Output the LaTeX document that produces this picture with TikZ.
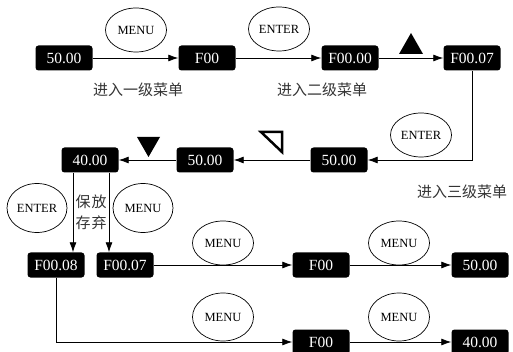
\documentclass[tikz,border=0pt]{standalone}
\usepackage{fontspec}
\setmainfont{Liberation Serif}
\newfontfamily\cjk{Noto Sans CJK SC}
\usetikzlibrary{shapes.geometric,arrows.meta}
\tikzset{
  disp/.style={fill=black, text=white, rounded corners=3pt, minimum width=57pt, minimum height=25pt, inner sep=0pt, font=\fontsize{15.5}{16}\selectfont},
  key/.style={ellipse, draw, line width=0.7pt, minimum width=61pt, minimum height=44pt, inner sep=0pt, font=\fontsize{12.5}{13}\selectfont},
  lbl/.style={font=\cjk\fontsize{15}{15}\selectfont, text=black!80, inner sep=0pt},
  arr/.style={line width=0.8pt, -{Latex[length=10pt,width=7pt]}},
  ln/.style={line width=0.8pt},
}
\begin{document}
\begin{tikzpicture}[x=1pt,y=-1pt]
\useasboundingbox (0,0) rectangle (513,352);
% row 1
\node[disp] (a1) at (64,58) {50.00};
\node[disp] (a2) at (207,58) {F00};
\node[disp] (a3) at (350,58) {F00.00};
\node[disp] (a4) at (472,58) {F00.07};
\node[key] (k1) at (136,30) {MENU};
\node[key] (k2) at (279,29) {ENTER};
\node[lbl] (l1) at (138,90) {进入一级菜单};
\node[lbl] (l2) at (322,90) {进入二级菜单};
\fill (399,54) -- (423,54) -- (411,33) -- cycle;
\draw[arr] (a1) -- (a2);
\draw[arr] (a2) -- (a3);
\draw[arr] (a3) -- (a4);
% row 2
\node[disp] (b1) at (90,160) {40.00};
\node[disp] (b2) at (205,160) {50.00};
\node[disp] (b3) at (339,160) {50.00};
\node[key] (k3) at (421,135) {ENTER};
\node[lbl] (l3) at (462,192) {进入三级菜单};
\fill (137,137) -- (160,137) -- (148.5,157) -- cycle;
\draw[line width=2.5pt, line join=miter] (261,132) -- (282,132) -- (282,152) -- cycle;
\draw[arr] (a4.south) |- (b3.east);
\draw[arr] (b3) -- (b2);
\draw[arr] (b2) -- (b1);
% left keys
\node[key, minimum height=49pt, minimum width=60pt] (k4) at (37,208) {ENTER};
\node[key, minimum height=49pt, minimum width=60pt] (k5) at (143,208) {MENU};
\node[lbl] (l4a) at (83,202) {保};
\node[lbl] (l4b) at (83,223) {存};
\node[lbl] (l5a) at (99,202) {放};
\node[lbl] (l5b) at (99,223) {弃};
% row 3
\node[disp] (c1) at (56,265) {F00.08};
\node[disp] (c2) at (125,265) {F00.07};
\node[disp] (c3) at (321,265) {F00};
\node[disp] (c4) at (480,265) {50.00};
\node[key] (k6) at (223,243) {MENU};
\node[key] (k7) at (399,243) {MENU};
\draw[arr] ([xshift=-17pt]b1.south) -- ([xshift=-17pt]b1.south |- c1.north);
\draw[arr] ([xshift=19pt]b1.south) -- ([xshift=19pt]b1.south |- c2.north);
\draw[arr] (c2) -- (c3);
\draw[arr] (c3) -- (c4);
% row 4
\node[disp] (d3) at (321,342) {F00};
\node[disp] (d4) at (480,342) {40.00};
\node[key, minimum height=48pt] (k8) at (223,317) {MENU};
\node[key, minimum height=48pt] (k9) at (399,317) {MENU};
\draw[arr] (c1.south) |- (d3.west);
\draw[arr] (d3) -- (d4);
\end{tikzpicture}
\end{document}
